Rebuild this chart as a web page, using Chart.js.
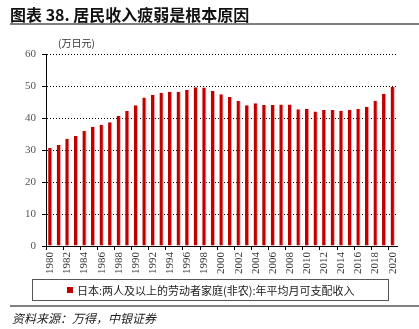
<!DOCTYPE html>
<html>
<head>
<meta charset="utf-8">
<script src="https://cdn.jsdelivr.net/npm/chart.js@4"></script>
<style>
  html, body { margin: 0; padding: 0; background: #fff; }
  #wrap { position: relative; width: 419px; height: 329px; overflow: hidden; font-family: "Noto Sans CJK SC", sans-serif; }
  #c { position: absolute; left: 0; top: 0; }
  .title { position: absolute; left: 10px; top: 2px; font-size: 16px; font-weight: bold; color: #111; white-space: nowrap; }
  .rule { position: absolute; left: 10px; width: 409px; height: 2px; background: #808080; }
  .unit { position: absolute; left: 58px; top: 35px; font-size: 10px; color: #333; font-family: "Noto Sans CJK SC", serif; white-space: nowrap; }
  .legend { position: absolute; left: 32px; top: 279px; width: 355px; height: 20px; border: 1px solid #555; box-sizing: content-box; font-size: 11px; color: #222; line-height: 20px; white-space: nowrap; }
  .legend .sw { position: absolute; left: 34px; top: 7px; width: 6px; height: 6px; background: #C00000; }
  .legend .tx { position: absolute; left: 44px; top: 0; }
  .source { position: absolute; left: 12px; top: 309px; font-size: 12px; font-style: italic; color: #222; white-space: nowrap; }
</style>
</head>
<body>
<div id="wrap">
  <canvas id="c" width="419" height="329"></canvas>
  <div class="title">图表 38. 居民收入疲弱是根本原因</div>
  <div class="rule" style="top:23px"></div>
  <div class="unit">(万日元)</div>
  <div class="legend"><span class="sw"></span><span class="tx">日本:两人及以上的劳动者家庭(非农):年平均月可支配收入</span></div>
  <div class="rule" style="top:305px"></div>
  <div class="source">资料来源：万得，中银证券</div>
</div>
<script>
const categories = ["1980","1981","1982","1983","1984","1985","1986","1987","1988","1989",
  "1990","1991","1992","1993","1994","1995","1996","1997","1998","1999",
  "2000","2001","2002","2003","2004","2005","2006","2007","2008","2009",
  "2010","2011","2012","2013","2014","2015","2016","2017","2018","2019","2020"];
const incomeValues = [30.6,31.6,33.5,34.4,36.0,37.3,37.9,38.7,40.6,42.2,
  44.0,46.4,47.3,47.9,48.2,48.2,48.8,49.6,49.5,48.4,
  47.4,46.6,45.3,44.0,44.6,44.1,44.1,44.2,44.2,42.7,
  42.9,42.0,42.5,42.5,42.3,42.6,42.8,43.5,45.4,47.6,49.8];
const yTicks = [0,10,20,30,40,50,60];
const seriesName = "日本:两人及以上的劳动者家庭(非农):年平均月可支配收入";

new Chart(document.getElementById('c'), {
  type: 'bar',
  data: {
    labels: categories,
    datasets: [{
      label: seriesName,
      data: incomeValues,
      backgroundColor: '#C00000',
      borderColor: '#F2A6A6',
      borderWidth: {left: 0, right: 1, top: 0, bottom: 0},
      borderSkipped: false,
      barPercentage: 0.5,
      categoryPercentage: 1.0
    }]
  },
  options: {
    responsive: false,
    animation: false,
    devicePixelRatio: 1,
    layout: { padding: { top: 54, right: 22, bottom: 51, left: 0 } },
    plugins: { legend: { display: false }, tooltip: { enabled: false } },
    scales: {
      x: {
        grid: {
          display: true,
          drawOnChartArea: false,
          drawTicks: true,
          tickLength: 4,
          offset: true,
          color: (ctx) => (ctx.index % 2 === 0 ? '#000' : 'rgba(0,0,0,0)'),
          tickColor: (ctx) => (ctx.index % 2 === 0 ? '#000' : 'rgba(0,0,0,0)')
        },
        border: { display: true, color: '#000', width: 1 },
        ticks: {
          autoSkip: false,
          minRotation: 90,
          maxRotation: 90,
          padding: 2,
          color: '#333',
          font: { family: 'Liberation Serif', size: 11 },
          callback: function(v, i) { return i % 2 === 0 ? categories[i] : ''; }
        },
        afterFit: (s) => { s.height = 32; }
      },
      y: {
        min: 0,
        max: 60,
        afterBuildTicks: (s) => { s.ticks = yTicks.map(v => ({ value: v })); },
        grid: {
          color: '#000',
          lineWidth: 1,
          tickLength: 4,
          tickColor: '#000',
          tickBorderDash: []
        },
        border: { display: true, color: '#000', width: 1, dash: [1, 2] },
        ticks: {
          color: '#555',
          padding: 6,
          font: { family: 'Liberation Serif', size: 11 }
        },
        afterFit: (s) => { s.width = 46; }
      }
    }
  }
});
</script>
</body>
</html>
